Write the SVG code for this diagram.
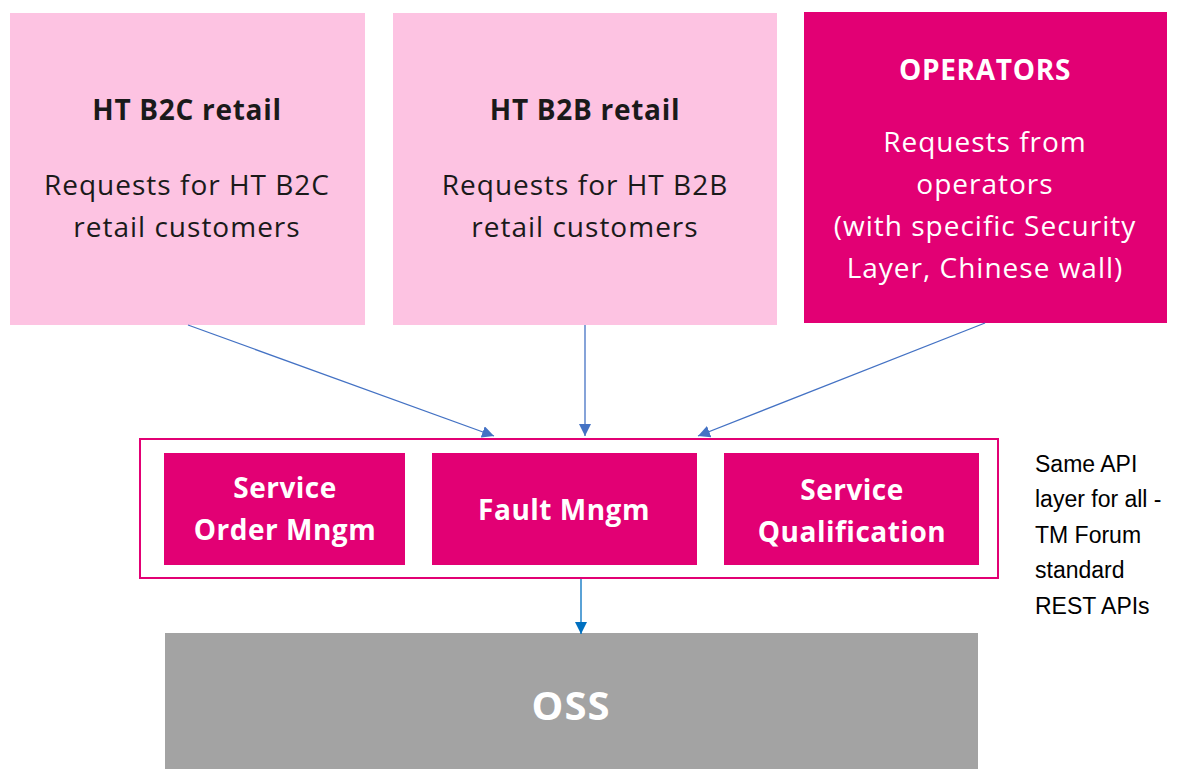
<svg xmlns="http://www.w3.org/2000/svg" width="1187" height="769" viewBox="0 0 1187 769">
<style>
.light{fill:#FDC3E2}
.mag{fill:#E20074}
.t{font-family:"Open Sans","Noto Sans",sans-serif;text-anchor:middle}
.h{font-weight:bold;font-size:28px;letter-spacing:0.7px}
.b{font-size:28px;letter-spacing:1px}
.dark{fill:#1a1a1a}
.w{fill:#ffffff}
.wb{font-family:"Open Sans","Noto Sans",sans-serif;text-anchor:middle;font-weight:bold;font-size:28px;letter-spacing:0.5px;fill:#ffffff}
.note{font-family:"Liberation Sans",Arial,sans-serif;font-size:23px;fill:#000}
.conn{stroke:#4472C4;stroke-width:1.3;fill:none}
.conn2{stroke:#0070C0;stroke-width:1.3;fill:none}
</style>
<defs>
<marker id="ah" viewBox="0 0 10 10" refX="10" refY="5" markerWidth="12" markerHeight="12" markerUnits="userSpaceOnUse" orient="auto">
<path d="M0,0 L10,5 L0,10 z" fill="#4472C4"/>
</marker>
<marker id="ah2" viewBox="0 0 10 10" refX="10" refY="5" markerWidth="12" markerHeight="12" markerUnits="userSpaceOnUse" orient="auto">
<path d="M0,0 L10,5 L0,10 z" fill="#0070C0"/>
</marker>
</defs>
<rect width="1187" height="769" fill="#ffffff"/>
<g id="b2c">
<rect class="light" x="10" y="13" width="355" height="312"/>
<text class="t h dark" x="187" y="120">HT B2C retail</text>
<text class="t b dark" x="187" y="195">Requests for HT B2C</text>
<text class="t b dark" x="187" y="237">retail customers</text>
</g>
<g id="b2b">
<rect class="light" x="393" y="13" width="384" height="312"/>
<text class="t h dark" x="585" y="120">HT B2B retail</text>
<text class="t b dark" x="585" y="195">Requests for HT B2B</text>
<text class="t b dark" x="585" y="237">retail customers</text>
</g>
<g id="operators">
<rect class="mag" x="804" y="12" width="363" height="311"/>
<text class="t h w" x="985" y="80">OPERATORS</text>
<text class="t b w" x="985" y="152">Requests from</text>
<text class="t b w" x="985" y="194">operators</text>
<text class="t b w" x="985" y="236">(with specific Security</text>
<text class="t b w" x="985" y="278">Layer, Chinese wall)</text>
</g>
<g id="api-layer">
<rect x="140" y="439" width="858" height="139" fill="none" stroke="#E20074" stroke-width="2"/>
</g>
<g id="service-order">
<rect class="mag" x="164" y="453" width="241" height="112"/>
<text class="wb" x="285" y="498">Service</text>
<text class="wb" x="285" y="540">Order Mngm</text>
</g>
<g id="fault">
<rect class="mag" x="432" y="453" width="265" height="112"/>
<text class="wb" x="564" y="520">Fault Mngm</text>
</g>
<g id="service-qual">
<rect class="mag" x="724" y="453" width="255" height="112"/>
<text class="wb" x="852" y="500">Service</text>
<text class="wb" x="852" y="542">Qualification</text>
</g>
<g id="oss">
<rect x="165" y="633" width="813" height="136" fill="#A3A3A3"/>
<text class="wb" x="571" y="720" style="font-size:40px;letter-spacing:1px">OSS</text>
</g>
<g id="note">
<text class="note" x="1035" y="472">Same API</text>
<text class="note" x="1035" y="507">layer for all -</text>
<text class="note" x="1035" y="543">TM Forum</text>
<text class="note" x="1035" y="578">standard</text>
<text class="note" x="1035" y="614">REST APIs</text>
</g>
<g id="connectors">
<line class="conn" x1="188" y1="325" x2="494" y2="436" marker-end="url(#ah)"/>
<line class="conn" x1="585" y1="325" x2="585" y2="436" marker-end="url(#ah)"/>
<line class="conn" x1="985" y1="323" x2="698" y2="436" marker-end="url(#ah)"/>
<line class="conn2" x1="581" y1="579" x2="581" y2="634" marker-end="url(#ah2)"/>
</g>
</svg>
